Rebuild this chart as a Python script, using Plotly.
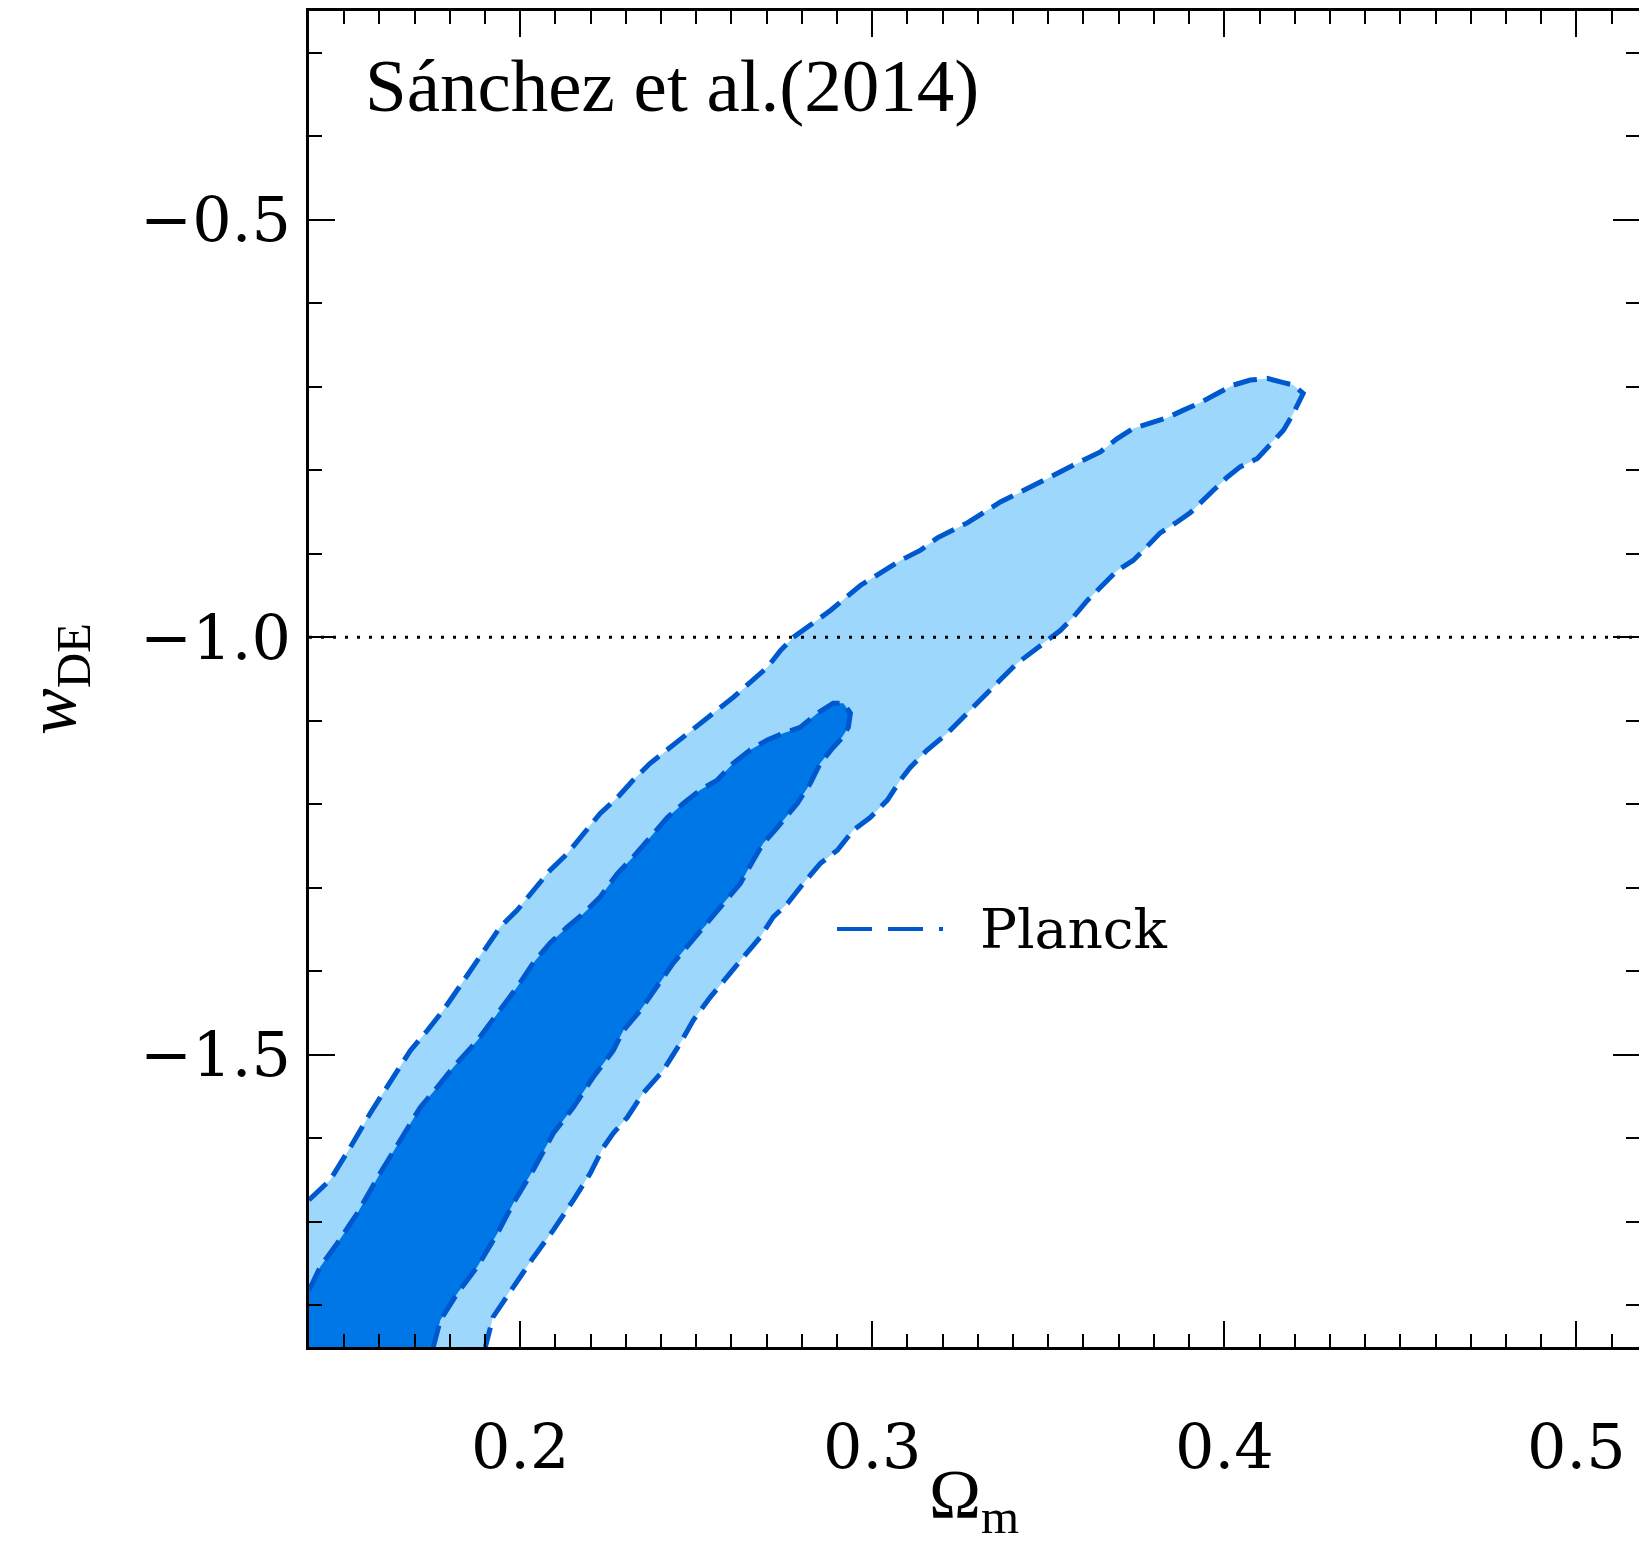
import plotly.graph_objects as go

# ---------------- data ----------------
X_RANGE = [0.14, 0.5178]
Y_RANGE = [-1.85, -0.25]
W_LCDM = -1.0

# outer (95%) Planck contour, from left axis, up to the tip, down to bottom axis
outer_om = [0.1400, 0.1460, 0.1517, 0.1574, 0.1639, 0.1688, 0.1736, 0.1781, 0.1830, 0.1886,
            0.1943, 0.1991, 0.2037, 0.2085, 0.2134, 0.2179, 0.2227, 0.2276, 0.2321, 0.2369,
            0.2418, 0.2463, 0.2511, 0.2560, 0.2605, 0.2653, 0.2702, 0.2739, 0.2776, 0.2881,
            0.2966, 0.3080, 0.3136, 0.3185, 0.3230, 0.3270, 0.3315, 0.3364, 0.3412, 0.3457,
            0.3506, 0.3554, 0.3599, 0.3648, 0.3696, 0.3741, 0.3790, 0.3838, 0.3884, 0.3932,
            0.3980, 0.4026, 0.4074, 0.4122, 0.4168, 0.4196, 0.4224,
            0.4196, 0.4168, 0.4131, 0.4094, 0.4045, 0.4009, 0.3969, 0.3932, 0.3903, 0.3866,
            0.3818, 0.3770, 0.3741, 0.3696, 0.3648, 0.3611, 0.3571, 0.3534, 0.3506, 0.3457,
            0.3412, 0.3364, 0.3315, 0.3270, 0.3213, 0.3156, 0.3108, 0.3080, 0.3043, 0.2994,
            0.2946, 0.2901, 0.2852, 0.2804, 0.2759, 0.2719, 0.2682, 0.2634, 0.2588, 0.2540,
            0.2491, 0.2455, 0.2406, 0.2349, 0.2304, 0.2264, 0.2236, 0.2199, 0.2151, 0.2094,
            0.2037, 0.1972, 0.1923, 0.1901]
outer_w = [-1.674, -1.650, -1.611, -1.570, -1.527, -1.495, -1.471, -1.447, -1.417, -1.381,
           -1.347, -1.327, -1.303, -1.279, -1.259, -1.235, -1.211, -1.192, -1.171, -1.151,
           -1.135, -1.120, -1.103, -1.087, -1.072, -1.055, -1.036, -1.016, -1.000, -0.968,
           -0.938, -0.908, -0.896, -0.881, -0.872, -0.863, -0.851, -0.838, -0.828, -0.818,
           -0.808, -0.798, -0.788, -0.778, -0.762, -0.750, -0.743, -0.737, -0.728, -0.719,
           -0.708, -0.698, -0.692, -0.690, -0.695, -0.698, -0.708,
           -0.732, -0.752, -0.768, -0.786, -0.796, -0.808, -0.824, -0.840, -0.851, -0.862,
           -0.875, -0.896, -0.908, -0.920, -0.940, -0.956, -0.976, -0.992, -1.001, -1.016,
           -1.031, -1.051, -1.072, -1.091, -1.115, -1.135, -1.156, -1.171, -1.195, -1.216,
           -1.231, -1.255, -1.271, -1.295, -1.319, -1.335, -1.359, -1.383, -1.407, -1.431,
           -1.459, -1.486, -1.519, -1.546, -1.575, -1.594, -1.611, -1.642, -1.674, -1.710,
           -1.743, -1.782, -1.814, -1.850]

# inner (68%) Planck contour
inner_om = [0.1400, 0.1432, 0.1480, 0.1537, 0.1602, 0.1659, 0.1716, 0.1764, 0.1810, 0.1878,
            0.1943, 0.1991, 0.2037, 0.2085, 0.2134, 0.2179, 0.2227, 0.2276, 0.2321, 0.2369,
            0.2418, 0.2463, 0.2511, 0.2560, 0.2605, 0.2653, 0.2702, 0.2747, 0.2795, 0.2844,
            0.2889, 0.2918, 0.2938, 0.2932, 0.2909,
            0.2889, 0.2852, 0.2824, 0.2787, 0.2730, 0.2690, 0.2662, 0.2625, 0.2577, 0.2531,
            0.2483, 0.2435, 0.2389, 0.2341, 0.2293, 0.2264, 0.2207, 0.2151, 0.2094, 0.2037,
            0.1980, 0.1935, 0.1878, 0.1821, 0.1773, 0.1753]
inner_w = [-1.782, -1.754, -1.726, -1.690, -1.642, -1.602, -1.563, -1.539, -1.515, -1.483,
           -1.447, -1.419, -1.390, -1.366, -1.347, -1.331, -1.311, -1.283, -1.263, -1.240,
           -1.216, -1.199, -1.183, -1.171, -1.151, -1.135, -1.123, -1.115, -1.108, -1.091,
           -1.079, -1.079, -1.091, -1.108, -1.123,
           -1.132, -1.151, -1.175, -1.199, -1.228, -1.247, -1.267, -1.295, -1.319, -1.343,
           -1.366, -1.390, -1.419, -1.447, -1.471, -1.495, -1.527, -1.563, -1.594, -1.638,
           -1.678, -1.714, -1.754, -1.786, -1.818, -1.850]

TITLE_TEXT = "Sánchez et al.(2014)"
LEGEND_LABEL = "Planck"

# ---------------- styling ----------------
W, H = 1639, 1544
ML, MR, MT, MB = 309, 0, 11, 197
PW, PH = W - ML - MR, H - MT - MB

LIGHT = "#9DD7FC"
DARK = "#0077E6"
EDGE = "#0058CE"
SERIF = "Liberation Serif, Times New Roman, serif"
TICKFONT = "DejaVu Serif, serif"
EDGE_DASH = "24px,10px"


def px(xp):
    return (xp - ML) / PW


def py(yp):
    return (MT + PH - yp) / PH


fig = go.Figure()

corner_x, corner_y = X_RANGE[0], Y_RANGE[0]
# outer region fill + dashed edge
fig.add_trace(go.Scatter(x=outer_om + [corner_x], y=outer_w + [corner_y], mode="lines",
                         fill="toself", fillcolor=LIGHT, line=dict(width=0),
                         hoverinfo="skip", showlegend=False))
fig.add_trace(go.Scatter(x=outer_om, y=outer_w, mode="lines",
                         line=dict(color=EDGE, width=5, dash=EDGE_DASH),
                         name=LEGEND_LABEL, showlegend=False))
# inner region fill + dashed edge
fig.add_trace(go.Scatter(x=inner_om + [corner_x], y=inner_w + [corner_y], mode="lines",
                         fill="toself", fillcolor=DARK, line=dict(width=0),
                         hoverinfo="skip", showlegend=False))
fig.add_trace(go.Scatter(x=inner_om, y=inner_w, mode="lines",
                         line=dict(color=EDGE, width=5, dash=EDGE_DASH),
                         showlegend=False))
# w = -1 reference line
fig.add_trace(go.Scatter(x=X_RANGE, y=[W_LCDM, W_LCDM], mode="lines",
                         line=dict(color="black", width=3, dash="3px,9px"),
                         hoverinfo="skip", showlegend=False))

axis_common = dict(
    showline=True, linecolor="black", linewidth=2.5, mirror="ticks",
    ticks="inside", tickcolor="black", tickwidth=2, ticklen=26,
    showgrid=False, zeroline=False, automargin=False,
    tickfont=dict(family=TICKFONT, size=62, color="black"),
    tickformat=".1f",
)

fig.update_xaxes(
    **axis_common, range=X_RANGE, tick0=0.2, dtick=0.1,
    minor=dict(ticks="inside", dtick=0.01, tick0=0.2, ticklen=13, tickwidth=2, tickcolor="black"),
    ticklabelstandoff=44,
    title=dict(text="Ω<sub>m</sub>", font=dict(family=SERIF, size=70, color="black"), standoff=22),
)
fig.update_yaxes(
    **axis_common, range=Y_RANGE, tick0=-0.5, dtick=0.5,
    minor=dict(ticks="inside", dtick=0.1, tick0=-0.5, ticklen=13, tickwidth=2, tickcolor="black"),
    ticklabelstandoff=3,
    title=dict(text="<i>w</i><sub>DE</sub>", font=dict(family=SERIF, size=70, color="black"), standoff=42),
)

fig.add_annotation(text=TITLE_TEXT, xref="paper", yref="paper", x=px(363), y=py(86),
                   xanchor="left", yanchor="middle", showarrow=False,
                   font=dict(family=SERIF, size=75, color="black"))

# legend key
fig.add_shape(type="line", xref="paper", yref="paper", x0=px(837), x1=px(943), y0=py(929), y1=py(929),
              line=dict(color=EDGE, width=4, dash="35px,16px"))
fig.add_annotation(text=LEGEND_LABEL, xref="paper", yref="paper", x=px(978), y=py(929),
                   xanchor="left", yanchor="middle", showarrow=False,
                   font=dict(family=TICKFONT, size=55, color="black"))

fig.update_layout(
    width=W, height=H, autosize=False,
    margin=dict(l=ML, r=MR, t=MT, b=MB, pad=0, autoexpand=False),
    paper_bgcolor="white", plot_bgcolor="white",
    showlegend=False,
)

fig.write_html("out.html", include_plotlyjs=True, config={"displayModeBar": False})
